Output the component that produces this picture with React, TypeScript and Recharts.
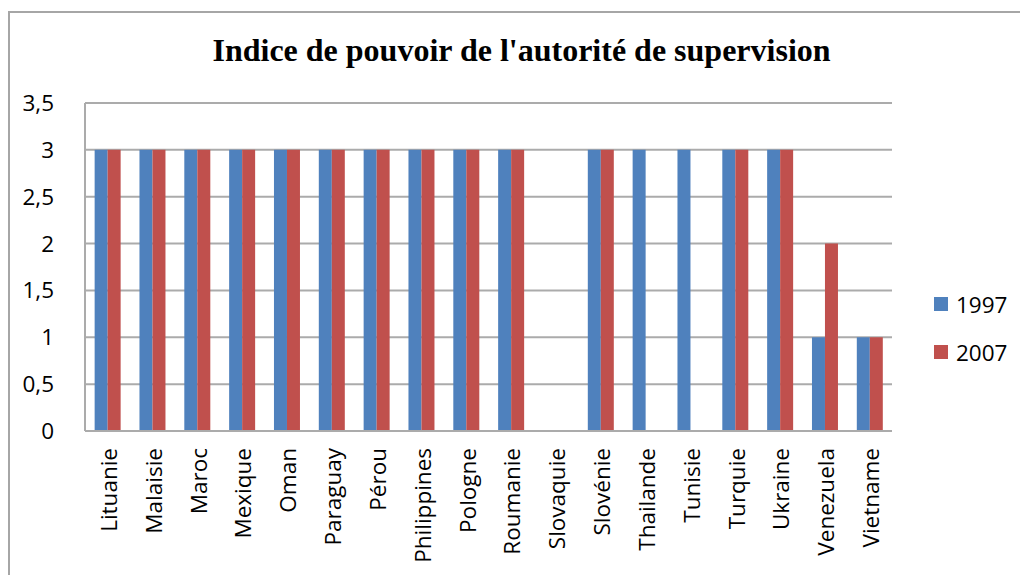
import { Bar, BarChart, CartesianGrid, XAxis, YAxis } from 'recharts';

const countries = [
  'Lituanie', 'Malaisie', 'Maroc', 'Mexique', 'Oman', 'Paraguay', 'Pérou', 'Philippines', 'Pologne',
  'Roumanie', 'Slovaquie', 'Slovénie', 'Thailande', 'Tunisie', 'Turquie', 'Ukraine', 'Venezuela', 'Vietname',
];
const values1997 = [3, 3, 3, 3, 3, 3, 3, 3, 3, 3, 0, 3, 3, 3, 3, 3, 1, 1];
const values2007 = [3, 3, 3, 3, 3, 3, 3, 3, 3, 3, 0, 3, 0, 0, 3, 3, 2, 1];
const yTicks = [0, 0.5, 1, 1.5, 2, 2.5, 3, 3.5];

const BLUE = '#4F81BD';
const RED = '#C0504D';
const GRID = '#ababab';
const LABEL_FONT = '"Open Sans", sans-serif';

const data = countries.map((name, i) => ({ name, y1997: values1997[i], y2007: values2007[i] }));

const legendItems = [
  { label: '1997', color: BLUE },
  { label: '2007', color: RED },
];

function CountryTick(props: any) {
  const { x, y, payload } = props;
  return (
    <text
      transform={`translate(${x + 1},${y + 9}) rotate(-90)`}
      textAnchor="end"
      dominantBaseline="central"
      fontFamily={LABEL_FONT}
      fontSize={22.5}
      fill="#000"
    >
      {payload.value}
    </text>
  );
}

export default function App() {
  return (
    <div style={{ position: 'absolute', left: 0, top: 0, width: 1020, height: 575, overflow: 'hidden', background: '#fff' }}>
      <div
        style={{
          position: 'absolute',
          left: 8,
          top: 11,
          width: 1100,
          height: 700,
          border: '2px solid #a6a6a6',
        }}
      />
      <div
        style={{
          position: 'absolute',
          left: 0,
          width: 1043,
          top: 30,
          textAlign: 'center',
          fontFamily: '"Liberation Serif", "Times New Roman", serif',
          fontWeight: 'bold',
          fontSize: 32,
          lineHeight: '40px',
        }}
      >
        Indice de pouvoir de l'autorité de supervision
      </div>
      <div style={{ position: 'absolute', left: 0, top: 0 }}>
        <BarChart
          width={1020}
          height={575}
          data={data}
          margin={{ top: 103, right: 128, left: 0, bottom: 0 }}
          barCategoryGap="21.5%"
          barGap={0}
        >
          <CartesianGrid horizontal vertical={false} stroke={GRID} strokeWidth={2} />
          <YAxis
            type="number"
            domain={[0, 3.5]}
            ticks={yTicks}
            width={85}
            tickLine={false}
            axisLine={{ stroke: GRID, strokeWidth: 2 }}
            tickMargin={25}
            tick={{ fontFamily: LABEL_FONT, fontSize: 22.5, fill: '#000' }}
            tickFormatter={(v: number) => String(v).replace('.', ',')}
            interval={0}
          />
          <XAxis
            dataKey="name"
            height={144}
            interval={0}
            tickLine={false}
            axisLine={{ stroke: GRID, strokeWidth: 2 }}
            tick={<CountryTick />}
          />
          <Bar dataKey="y1997" name="1997" fill={BLUE} isAnimationActive={false} />
          <Bar dataKey="y2007" name="2007" fill={RED} isAnimationActive={false} />
        </BarChart>
      </div>
      <div style={{ position: 'absolute', left: 934, top: 280, fontFamily: LABEL_FONT, fontSize: 22.5, color: '#000' }}>
        {legendItems.map((it) => (
          <div key={it.label} style={{ display: 'flex', alignItems: 'center', height: 48 }}>
            <span style={{ width: 14, height: 14, background: it.color, marginRight: 8, display: 'inline-block' }} />
            <span>{it.label}</span>
          </div>
        ))}
      </div>
    </div>
  );
}
